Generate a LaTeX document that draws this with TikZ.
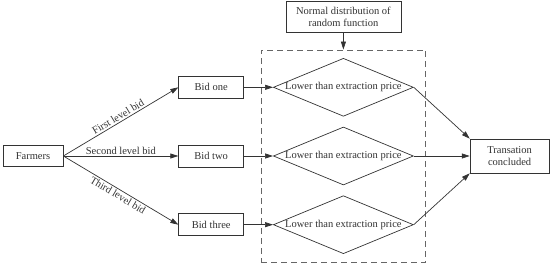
\documentclass[tikz,border=0pt]{standalone}
\usepackage{fontspec}
\setmainfont{Liberation Serif}
\usepackage{tikz}
\usetikzlibrary{arrows.meta,positioning,shapes,fit}
\definecolor{linegray}{HTML}{333333}
\definecolor{dashgray}{HTML}{666666}

\begin{document}
\begin{tikzpicture}[
  x=1pt, y=-1pt,
  every node/.style={font=\fontsize{10.5}{12.5}\selectfont, text=linegray, align=center},
  box/.style={draw=linegray, line width=0.7pt, inner sep=2pt},
  cond/.style={draw=linegray, line width=0.7pt, diamond, aspect=2.4, inner sep=0pt, minimum width=140pt, minimum height=58pt},
  arr/.style={-{Triangle[length=8pt, width=5pt]}, line width=0.7pt, draw=linegray},
  lbl/.style={font=\fontsize{10.5}{12.5}\selectfont, inner sep=1.5pt},
]
  \useasboundingbox (0,0) rectangle (550,264);

  % Farmers and bids
  \node[box, minimum width=60pt, minimum height=21pt] (farm) at (33,156) {Farmers};
  \node[box, minimum width=65pt, minimum height=22pt, right=115pt of farm] (b2) {Bid two};
  \node[box, minimum width=65pt, minimum height=22pt, above=46pt of b2] (b1) {Bid one};
  \node[box, minimum width=65pt, minimum height=22pt, below=46pt of b2] (b3) {Bid three};

  % Price checks
  \node[cond, right=29pt of b1] (d1) {Lower than extraction price};
  \node[cond, right=29pt of b2] (d2) {Lower than extraction price};
  \node[cond, right=29pt of b3] (d3) {Lower than extraction price};
  \node[draw=dashgray, dashed, dash pattern=on 6pt off 4pt, line width=0.7pt, inner xsep=12pt, inner ysep=8pt, fit=(d1)(d3)] (dbox) {};

  % Random function
  \node[box, minimum width=115pt, minimum height=31pt, above=17pt of dbox] (norm) {Normal distribution of\\random function};

  % Result
  \node[box, minimum width=79pt, minimum height=34pt, right=56pt of d2] (deal) {Transation\\concluded};

  % Edges
  \draw[arr] (farm.east) -- node[lbl, above, sloped] {First level bid} (b1.west);
  \draw[arr] (farm.east) -- node[lbl, above] {Second level bid} (b2.west);
  \draw[arr] (farm.east) -- node[lbl, below, sloped] {Third level bid} (b3.west);
  \draw[arr] (b1) -- (d1);
  \draw[arr] (b2) -- (d2);
  \draw[arr] (b3) -- (d3);
  \draw[arr] (norm) -- (dbox);
  \draw[arr] (d1.east) -- (deal.north west);
  \draw[arr] (d2.east) -- (deal.west);
  \draw[arr] (d3.east) -- (deal.south west);
\end{tikzpicture}
\end{document}
